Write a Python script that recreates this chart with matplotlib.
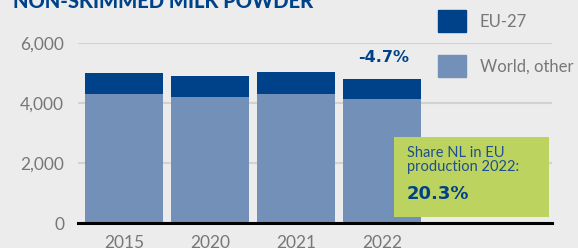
import matplotlib.pyplot as plt
from matplotlib.patches import Patch, Rectangle

# Non-skimmed milk powder production (x 1,000 tonnes)
years = ['2015', '2020', '2021', '2022']
world_other = [4300, 4200, 4300, 4130]
eu27 = [700, 700, 730, 670]
change_label = '-4.7%'

bg = '#ececec'
c_eu = '#00428a'
c_world = '#7390b8'
c_grey = '#777777'

plt.rcParams['font.family'] = ['Lato', 'DejaVu Sans']

fig = plt.figure(figsize=(5.78, 2.48), dpi=100, facecolor=bg)
ax = fig.add_axes([78 / 578, 25 / 248, 474 / 578, 180 / 248], facecolor=bg)

x = list(range(len(years)))
ax.bar(x, world_other, width=0.907, color=c_world, zorder=2)
ax.bar(x, eu27, bottom=world_other, width=0.907, color=c_eu, zorder=2)

ax.set_xlim(-0.535, 4.977)
ax.set_ylim(0, 6000)
ax.set_yticks([0, 2000, 4000, 6000])
ax.set_yticklabels(['0', '2,000', '4,000', '6,000'])
ax.set_xticks(x)
ax.set_xticklabels(years)
ax.tick_params(axis='both', length=0, labelsize=12.5, labelcolor=c_grey)
ax.tick_params(axis='y', pad=10)
ax.tick_params(axis='x', pad=9)
ax.grid(axis='y', color='#d2d2d2', linewidth=1.5, zorder=0)
for s in ['top', 'right', 'left']:
    ax.spines[s].set_visible(False)
ax.spines['bottom'].set_color('black')
ax.spines['bottom'].set_linewidth(2.2)
ax.spines['bottom'].set_zorder(3)

# change label above last bar
last = len(years) - 1
ax.annotate(change_label, (x[last], world_other[last] + eu27[last]),
            xytext=(1, 10), textcoords='offset points', ha='center', va='bottom',
            fontsize=11.5, fontweight='bold', family='DejaVu Sans', color=c_eu,
            annotation_clip=False)

# legend
handles = [Patch(color=c_eu, label='EU-27'), Patch(color=c_world, label='World, other')]
leg = ax.legend(handles=handles, loc='upper left', bbox_to_anchor=(0.759, 1.183),
                frameon=False, fontsize=12, handlelength=1.68, handleheight=1.68,
                handletextpad=0.85, labelspacing=1.35, borderpad=0, borderaxespad=0)
for t in leg.get_texts():
    t.set_color(c_grey)

# title, cut off at the top
fig.text(13 / 578, 1 - 8 / 248, 'NON-SKIMMED MILK POWDER', fontsize=14.5,
         fontweight='black', color=c_eu, ha='left', va='baseline')

# share box
fig.add_artist(Rectangle((394 / 578, 1 - 217 / 248), 155 / 578, 80 / 248,
                         transform=fig.transFigure, facecolor='#bdd35f',
                         edgecolor='none', zorder=5))
fig.text(407 / 578, 1 - 146 / 248, 'Share NL in EU\nproduction 2022:', fontsize=10.5,
         color='#1f4f8f', ha='left', va='top', linespacing=1.0, zorder=6)
fig.text(407 / 578, 1 - 199 / 248, '20.3%', fontsize=13, fontweight='bold',
         family='DejaVu Sans', color=c_eu, ha='left', va='baseline', zorder=6)

fig.savefig('out.png', dpi=100, facecolor=bg)
